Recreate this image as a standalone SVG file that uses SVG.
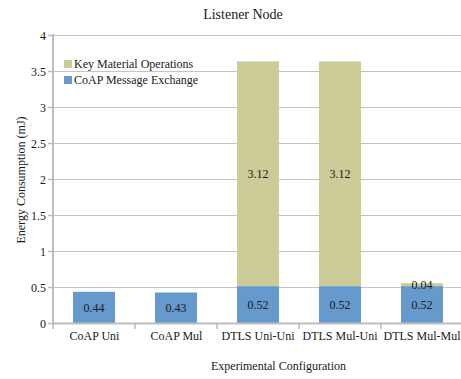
<svg xmlns="http://www.w3.org/2000/svg" width="461" height="379" viewBox="0 0 461 379">
<style>
text{font-family:"Liberation Serif","Times New Roman",serif;font-size:12px;fill:#1a1a1a}
.title{font-size:14px}
.grid{stroke:#c4c4c4;stroke-width:1.2}
.axis{stroke:#bdbdbd;stroke-width:2;fill:none}
.tick{stroke:#bdbdbd;stroke-width:1.5}
.blue{fill:#6699cc}
.olive{fill:#cccc99}
.yl{text-anchor:end}
.c{text-anchor:middle}
.dl{text-anchor:middle}
</style>
<rect width="461" height="379" fill="#ffffff"/>
<text class="title c" x="243" y="19">Listener Node</text>
<g id="grid">
<line class="grid" x1="53" y1="35.5" x2="461" y2="35.5"/>
<line class="grid" x1="53" y1="71.5" x2="461" y2="71.5"/>
<line class="grid" x1="53" y1="107.5" x2="461" y2="107.5"/>
<line class="grid" x1="53" y1="143.5" x2="461" y2="143.5"/>
<line class="grid" x1="53" y1="179.5" x2="461" y2="179.5"/>
<line class="grid" x1="53" y1="215.5" x2="461" y2="215.5"/>
<line class="grid" x1="53" y1="251.5" x2="461" y2="251.5"/>
<line class="grid" x1="53" y1="287.5" x2="461" y2="287.5"/>
</g>
<g id="yaxis">
<line class="tick" x1="48" y1="35.5" x2="53" y2="35.5"/>
<line class="tick" x1="48" y1="71.5" x2="53" y2="71.5"/>
<line class="tick" x1="48" y1="107.5" x2="53" y2="107.5"/>
<line class="tick" x1="48" y1="143.5" x2="53" y2="143.5"/>
<line class="tick" x1="48" y1="179.5" x2="53" y2="179.5"/>
<line class="tick" x1="48" y1="215.5" x2="53" y2="215.5"/>
<line class="tick" x1="48" y1="251.5" x2="53" y2="251.5"/>
<line class="tick" x1="48" y1="287.5" x2="53" y2="287.5"/>
<line class="tick" x1="48" y1="323.5" x2="53" y2="323.5"/>
<text class="yl" x="46" y="39.5">4</text>
<text class="yl" x="46" y="75.5">3.5</text>
<text class="yl" x="46" y="111.5">3</text>
<text class="yl" x="46" y="147.5">2.5</text>
<text class="yl" x="46" y="183.5">2</text>
<text class="yl" x="46" y="219.5">1.5</text>
<text class="yl" x="46" y="255.5">1</text>
<text class="yl" x="46" y="291.5">0.5</text>
<text class="yl" x="46" y="327.5">0</text>
<text class="c" transform="translate(25,180) rotate(-90)">Energy Consumption (mJ)</text>
</g>
<g id="bars">
<g id="coap-uni">
<rect class="blue" x="73" y="291.8" width="42" height="31.7"/>
<text class="dl" x="94" y="312">0.44</text>
</g>
<g id="coap-mul">
<rect class="blue" x="155" y="292.5" width="42" height="31"/>
<text class="dl" x="176" y="312">0.43</text>
</g>
<g id="dtls-uni-uni">
<rect class="blue" x="237" y="286.1" width="42" height="37.4"/>
<rect class="olive" x="237" y="61.4" width="42" height="224.7"/>
<text class="dl" x="258" y="309">0.52</text>
<text class="c" x="258" y="178">3.12</text>
</g>
<g id="dtls-mul-uni">
<rect class="blue" x="319" y="286.1" width="42" height="37.4"/>
<rect class="olive" x="319" y="61.4" width="42" height="224.7"/>
<text class="dl" x="340" y="309">0.52</text>
<text class="c" x="340" y="178">3.12</text>
</g>
<g id="dtls-mul-mul">
<rect class="blue" x="401" y="286.1" width="42" height="37.4"/>
<rect class="olive" x="401" y="283.2" width="42" height="2.9"/>
<text class="dl" x="422" y="309">0.52</text>
<text class="dl" x="422" y="289">0.04</text>
</g>
</g>
<g id="xaxis">
<line class="axis" x1="53" y1="34" x2="53" y2="324.5"/>
<line class="axis" x1="52" y1="323.5" x2="461" y2="323.5"/>
<line class="tick" x1="53" y1="323.5" x2="53" y2="329"/>
<line class="tick" x1="135" y1="323.5" x2="135" y2="329"/>
<line class="tick" x1="217" y1="323.5" x2="217" y2="329"/>
<line class="tick" x1="299" y1="323.5" x2="299" y2="329"/>
<line class="tick" x1="381" y1="323.5" x2="381" y2="329"/>
<text class="c" x="94.5" y="340">CoAP Uni</text>
<text class="c" x="176.5" y="340">CoAP Mul</text>
<text class="c" x="258" y="340">DTLS Uni-Uni</text>
<text class="c" x="340" y="340">DTLS Mul-Uni</text>
<text class="c" x="422" y="340">DTLS Mul-Mul</text>
<text class="c" x="278.5" y="370">Experimental Configuration</text>
</g>
<g id="legend">
<rect class="olive" x="64" y="60" width="8" height="8"/>
<text x="74" y="67.5">Key Material Operations</text>
<rect class="blue" x="64" y="76" width="8" height="8"/>
<text x="74" y="84">CoAP Message Exchange</text>
</g>
</svg>
